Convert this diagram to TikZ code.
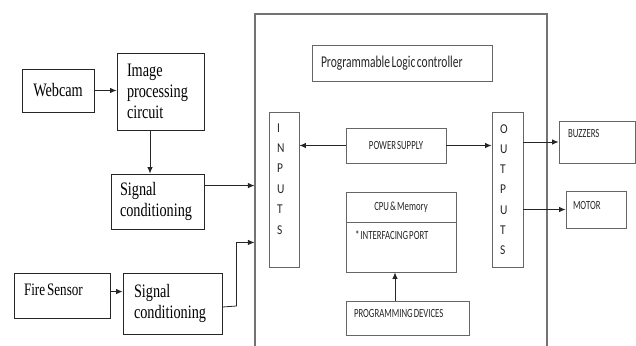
\documentclass[tikz,border=0pt]{standalone}
\usepackage{fontspec}
\newfontfamily\serifc[FakeStretch=0.75,WordSpace=0.6]{Liberation Serif}
\newfontfamily\sansc[FakeStretch=0.7,WordSpace=0.55]{Carlito}
\newfontfamily\sansl[FakeStretch=0.85]{Carlito}
\usetikzlibrary{arrows.meta,calc}

\begin{document}
\begin{tikzpicture}[x=1pt,y=-1pt,
  box/.style={draw=black!85, line width=0.9pt, inner ysep=0pt, align=left,
    font=\serifc\fontsize{19}{21}\selectfont, text=black,
    execute at begin node={\spaceskip=0pt\relax}},
  pbox/.style={draw=black!60, line width=0.9pt, inner ysep=0pt, inner xsep=0pt,
    font=\sansc\fontsize{12.5}{14}\selectfont, text=black!85,
    execute at begin node={\spaceskip=0pt\relax}},
  arr/.style={draw=black!85, line width=0.8pt, -{Latex[length=6.5pt,width=5.5pt]}}]

\useasboundingbox (0,0) rectangle (636,345);
\clip (0,0) rectangle (636,345);

% sensing chain
\node[box, minimum width=72, minimum height=43, align=center, inner xsep=0pt] (webcam) at (58,90.5) {Webcam};
\node[box, minimum width=87, minimum height=77, text width=67pt, inner xsep=10pt] (imgproc) at (160.5,91.5) {Image\\processing\\circuit};
\node[box, minimum width=93, minimum height=55, text width=75pt, inner xsep=9pt] (sig1) at (157.5,201.5) {Signal\\conditioning};
\node[box, font=\serifc\fontsize{17.5}{20}\selectfont, minimum width=96, minimum height=45,
  text width=76pt, inner xsep=10pt, text height=22.8pt, text depth=22.2pt] (fire) at (62,295.5) {Fire Sensor};
\node[box, minimum width=99, minimum height=61, text width=77pt, inner xsep=11pt] (sig2) at (172.5,303.5) {Signal\\conditioning};

% PLC enclosure (open at the bottom)
\node[draw=black!55, line width=1.1pt, minimum width=292, minimum height=346, inner sep=0pt] (plc) at (401,187) {};

\node[pbox, font=\sansc\fontsize{16.5}{18}\selectfont, minimum width=180, minimum height=36,
  text width=162pt, inner xsep=9pt, align=left] (title) at (402,63) {Programmable Logic controller};

\node[pbox, font=\sansl\fontsize{13.5}{20.4}\selectfont, minimum width=30, minimum height=155,
  text width=14pt, inner xsep=8pt, align=left, text height=20pt, text depth=135pt] (inputs) at (284,189.5) {I\\N\\P\\U\\T\\S};
\node[pbox, font=\sansl\fontsize{13.5}{20.3}\selectfont, minimum width=31, minimum height=155,
  text width=15pt, inner xsep=8pt, align=left, text height=21pt, text depth=134pt] (outputs) at (507.5,189.5) {O\\U\\T\\P\\U\\T\\S};

\node[pbox, minimum width=100, minimum height=35] (power) at (396,145.5) {POWER SUPPLY};
\node[pbox, minimum width=110, minimum height=30] (cpu) at (401,207) {CPU \& Memory};
\node[pbox, minimum width=110, minimum height=50, text width=92pt, inner xsep=9pt, align=left,
  text height=17pt, text depth=33pt] (port) at (401,247) {* INTERFACING PORT};
\node[pbox, minimum width=123, minimum height=34, text width=107pt, inner xsep=8pt, align=left,
  text height=16pt, text depth=18pt] (prog) at (407.5,318) {PROGRAMMING DEVICES};

% actuators
\node[pbox, minimum width=76, minimum height=42, text width=58pt, inner xsep=9pt, align=left,
  text height=16pt, text depth=26pt] (buzz) at (597,142) {BUZZERS};
\node[pbox, minimum width=60, minimum height=37, text width=46pt, inner xsep=7pt, align=left,
  text height=18pt, text depth=19pt] (motor) at (596,209.5) {MOTOR};

% input point on the enclosure
\coordinate (in2) at ($(plc.west |- inputs.south)+(0,-25)$);

% connectors
\draw[arr] (webcam.east) -- (webcam.east -| imgproc.west);
\draw[arr] ([xshift=-10.5pt]imgproc.south) coordinate (ip) -- (ip |- sig1.north);
\draw[arr] ([yshift=-12pt]sig1.north east) coordinate (s1) -- (s1 -| plc.west);
\draw[arr] ([yshift=-19pt]fire.north east) coordinate (f1) -- (f1 -| sig2.west);
\draw[arr] ([yshift=-3.5pt]sig2.east) -- ++(14,-1) |- (in2);
\draw[arr] (power.west) -- (power.west -| inputs.east);
\draw[arr] (power.east) -- (power.east -| outputs.west);
\draw[arr] (buzz.west -| outputs.east) -- (buzz.west);
\draw[arr] (motor.west -| outputs.east) -- (motor.west);
\draw[arr] ([xshift=-12.5pt]prog.north) coordinate (pg) -- (pg |- port.south);
\end{tikzpicture}
\end{document}
